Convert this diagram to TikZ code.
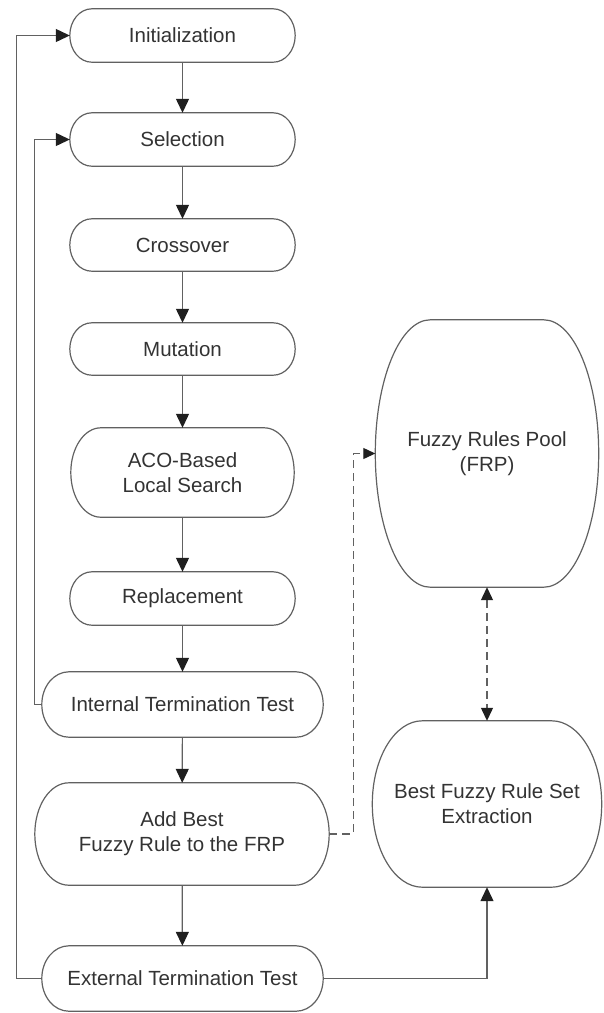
\documentclass[tikz,border=0pt]{standalone}
\usepackage{fontspec}
\setmainfont{Liberation Sans}
\usetikzlibrary{arrows.meta,calc}

\begin{document}
\begin{tikzpicture}[
	x=1pt,y=-1pt,
	fbox/.style={rectangle,inner sep=0pt,text=black!80,font=\fontsize{20.5}{25}\selectfont,align=center},
	fline/.style={draw=black!62,line width=1.2pt},
	farrow/.style={fline,-{Triangle[length=14pt,width=13pt,color=black!88]}},
	fdash/.style={fline,dash pattern=on 8pt off 5pt}
	]
	\useasboundingbox (0,0) rectangle (603,1013);
	\node[fbox,minimum width=225pt,minimum height=53pt] (init) at (182.5,35.5) {Initialization};
	\node[fbox,minimum width=225pt,minimum height=53pt] (sel) at (182.5,139.5) {Selection};
	\node[fbox,minimum width=225pt,minimum height=52pt] (cross) at (182.5,245) {Crossover};
	\node[fbox,minimum width=225pt,minimum height=52pt] (mut) at (182.5,349) {Mutation};
	\node[fbox,minimum width=223pt,minimum height=89pt] (aco) at (182.5,472.5) {ACO-Based\\Local Search};
	\node[fbox,minimum width=225pt,minimum height=53pt] (repl) at (182.5,598.5) {Replacement};
	\node[fbox,minimum width=281pt,minimum height=65pt] (itest) at (182.5,704.5) {Internal Termination Test};
	\node[fbox,minimum width=294pt,minimum height=102pt] (add) at (182,834) {Add Best\\Fuzzy Rule to the FRP};
	\node[fbox,minimum width=281pt,minimum height=65pt] (ext) at (182.5,978.5) {External Termination Test};
	\node[fbox,minimum width=223pt,minimum height=267pt] (frp) at (487,453.5) {Fuzzy Rules Pool\\(FRP)};
	\node[fbox,minimum width=229pt,minimum height=166pt] (best) at (487,804) {Best Fuzzy Rule Set\\Extraction};
	\foreach \b/\rad in {init/22,sel/22,cross/22,mut/22,aco/30,repl/22,itest/27,add/34,ext/27,frp/55,best/50}{
		\draw[fline] let \p1=(\b.north west),\p2=(\b.south east),\n1={(\y1-\y2)/2} in
			(\x1+\rad pt,\y1) -- (\x2-\rad pt,\y1) arc[start angle=90,end angle=-90,x radius=\rad pt,y radius=\n1]
			-- (\x1+\rad pt,\y2) arc[start angle=-90,end angle=-270,x radius=\rad pt,y radius=\n1] -- cycle;
	}
	\draw[farrow] (init) -- (sel);
	\draw[farrow] (sel) -- (cross);
	\draw[farrow] (cross) -- (mut);
	\draw[farrow] (mut) -- (aco);
	\draw[farrow] (aco) -- (repl);
	\draw[farrow] (repl) -- (itest);
	\draw[farrow] (itest) -- (add);
	\draw[farrow] (add) -- (ext);
	\draw[farrow] (itest.west) -- ++(-7,0) |- (sel.west);
	\draw[farrow] (ext.west) -- ++(-25,0) |- (init.west);
	\draw[fdash,-{Triangle[length=12pt,width=11pt,color=black!88]}] (add.east) -- ++(24,0) |- (frp.west);
	\draw[fdash,{Triangle[length=13pt,width=12pt,color=black!88]}-{Triangle[length=13pt,width=12pt,color=black!88]}] (frp) -- (best);
	\draw[farrow] (ext.east) -| (best.south);
\end{tikzpicture}
\end{document}
